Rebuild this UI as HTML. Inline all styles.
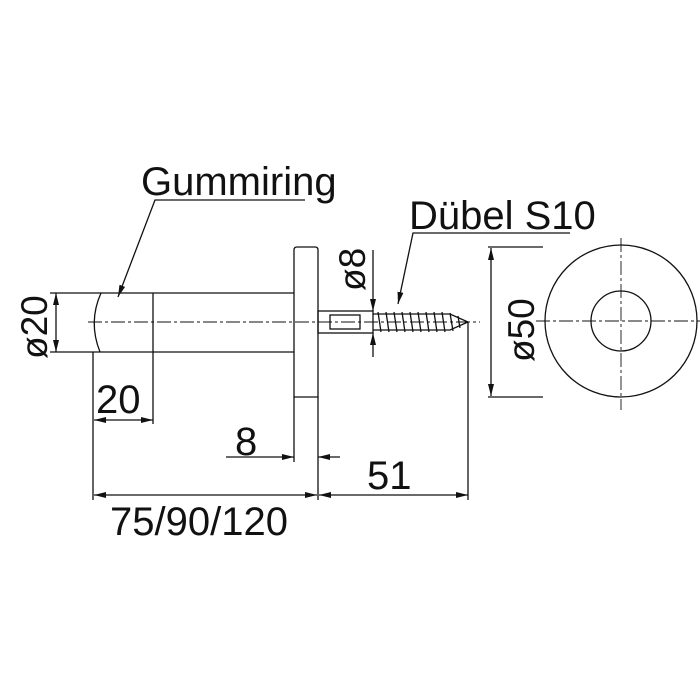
<!DOCTYPE html>
<html><head><meta charset="utf-8"><style>body{margin:0;background:#fff}svg{display:block}text{font-family:"Liberation Sans",sans-serif;fill:#111}</style></head><body>
<svg width="700" height="700" viewBox="0 0 700 700">
<defs>
<marker id="a" viewBox="0 0 12 6" refX="12" refY="3" markerWidth="12" markerHeight="6" orient="auto-start-reverse" markerUnits="userSpaceOnUse"><path d="M0,0L12,3L0,6z" fill="#111"/></marker>
</defs>
<g stroke="#111" stroke-width="1.3" fill="none">
<line x1="88" y1="322" x2="480" y2="322" stroke-dasharray="14,3,3,3" stroke-width="0.9"/>
<line x1="50" y1="293" x2="294" y2="293"/>
<line x1="50" y1="352" x2="294" y2="352"/>
<path d="M101,293 Q88,322 100,352"/>
<line x1="153" y1="293" x2="153" y2="352"/>
<path d="M294,397 L294,250 Q294,247 297,247 L315,247 Q318,247 318,250 L318,397 Z"/>
<line x1="294" y1="397" x2="294" y2="462"/>
<line x1="318" y1="397" x2="318" y2="500"/>
<rect x="318" y="311" width="55" height="22"/>
<rect x="330" y="315" width="30" height="14"/>
<path d="M373,314 L450,314 L468,322 L450,330 L373,330"/>
<path d="M378,312l3,20M386,312l3,20M394,312l3,20M402,312l3,20M410,312l3,20M418,312l3,20M426,312l3,20M434,312l3,20M442,312l3,20M450,313l3,18M458,316l2,12"/>
<line x1="373" y1="250" x2="373" y2="311" marker-end="url(#a)"/>
<line x1="373" y1="357" x2="373" y2="333" marker-end="url(#a)"/>
<line x1="93" y1="352" x2="93" y2="500"/>
<line x1="153" y1="352" x2="153" y2="424"/>
<line x1="468" y1="322" x2="468" y2="500"/>
<line x1="56" y1="293" x2="56" y2="352" marker-start="url(#a)" marker-end="url(#a)"/>
<line x1="94" y1="420" x2="153" y2="420" marker-start="url(#a)" marker-end="url(#a)"/>
<line x1="226" y1="457" x2="294" y2="457" marker-end="url(#a)"/>
<line x1="340" y1="457" x2="318" y2="457" marker-end="url(#a)"/>
<line x1="94" y1="495" x2="317" y2="495" marker-start="url(#a)" marker-end="url(#a)"/>
<line x1="319" y1="495" x2="468" y2="495" marker-start="url(#a)" marker-end="url(#a)"/>
<polyline points="305,200 155,200 118,297" marker-end="url(#a)"/>
<polyline points="570,233 413,233 398,304" marker-end="url(#a)"/>
<circle cx="621" cy="321" r="76"/>
<circle cx="621" cy="321" r="30"/>
<line x1="536" y1="321" x2="700" y2="321" stroke-dasharray="14,3,3,3" stroke-width="0.9"/>
<line x1="621" y1="238" x2="621" y2="410" stroke-dasharray="14,3,3,3" stroke-width="0.9"/>
<line x1="488" y1="247" x2="543" y2="247"/>
<line x1="488" y1="397" x2="543" y2="397"/>
<line x1="491" y1="248" x2="491" y2="396" marker-start="url(#a)" marker-end="url(#a)"/>
</g>
<g font-size="40">
<text x="141" y="195">Gummiring</text>
<text x="409" y="229">Dübel S10</text>
<text x="96" y="413">20</text>
<text x="235" y="455">8</text>
<text x="367" y="489">51</text>
<text x="110" y="535">75/90/120</text>
</g>
<g font-size="37">
<text transform="translate(47,359) rotate(-90)">ø20</text>
<text transform="translate(365,291) rotate(-90)">ø8</text>
<text transform="translate(534,362) rotate(-90)">ø50</text>
</g>
</svg>
</body></html>
